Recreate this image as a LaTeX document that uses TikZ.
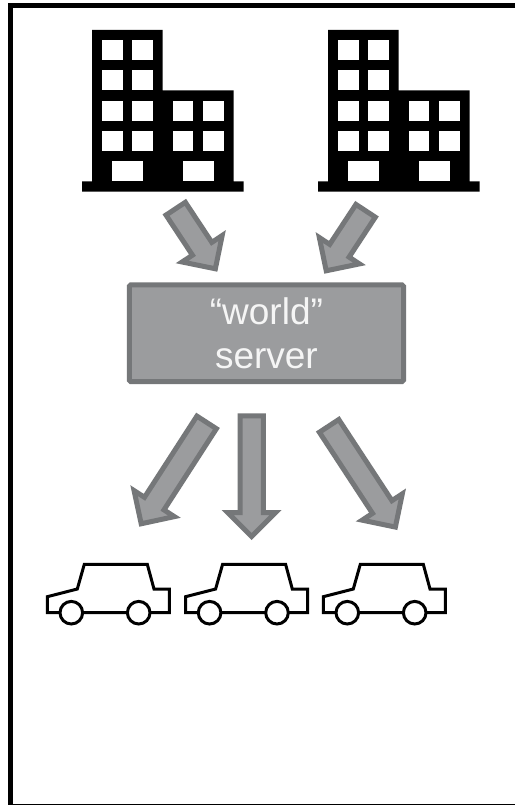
\documentclass[tikz,border=0pt]{standalone}
\usepackage{fontspec}
\setmainfont{Liberation Sans}
\usetikzlibrary{calc}
\definecolor{blockfill}{HTML}{9B9C9E}
\definecolor{blockline}{HTML}{757779}
\tikzset{
  frameline/.style={line width=5pt,black,line join=miter},
  blockshape/.style={draw=blockline,fill=blockfill,line width=5pt,line join=miter,miter limit=10},
  servertext/.style={text=white!96!black,font=\fontsize{37}{44}\selectfont,align=center},
  carline/.style={draw=black,fill=white,line width=3pt,line join=miter},
  building/.pic={
    \fill[black] (92,30) -- (162.7,30) -- (162.7,90.3) -- (233.7,90.3) -- (233.7,181.3)
      -- (243.7,181.3) -- (243.7,191.7) -- (82,191.7) -- (82,181.3) -- (92,181.3) -- cycle;
    \foreach \wy in {40,70,100.7,131}{
      \fill[white] (102.3,\wy) rectangle +(20.4,20.3);
      \fill[white] (132.3,\wy) rectangle +(20.4,20.3);
    }
    \foreach \wy in {100.7,131}{
      \fill[white] (173,\wy) rectangle +(20.4,20.3);
      \fill[white] (203.3,\wy) rectangle +(20.4,20.3);
    }
    \fill[white] (112.3,161.3) rectangle (142.7,181.3);
    \fill[white] (183,161.3) rectangle (213.7,181.3);
  },
  car/.pic={
    \path[carline] (47.3,596.7) -- (77.3,589) -- (84.3,564.3) -- (147.3,564.3) -- (154,589)
      -- (169.3,589) -- (169.3,612.7) -- (47.3,612.7) -- cycle;
    \path[carline] (71.3,612.7) circle[radius=11.3pt];
    \path[carline] (138.7,612.7) circle[radius=11.3pt];
  }
}
% #1 outer tail centre, #2 outer tip
\newcommand{\blockarrow}[2]{%
  \coordinate (ta) at ($#1!2.5pt!#2$);
  \coordinate (tb) at ($#2!3.5pt!#1$);
  \coordinate (tn) at ($(tb)!24pt!(ta)$);
  \path[blockshape]
    ($(ta)!11.6pt!90:(tb)$) -- ($(tn)!11.6pt!90:(tb)$) -- ($(tn)!24pt!90:(tb)$) -- (tb)
    -- ($(tn)!24pt!-90:(tb)$) -- ($(tn)!11.6pt!-90:(tb)$) -- ($(ta)!11.6pt!-90:(tb)$) -- cycle;
}
\begin{document}
\begin{tikzpicture}[x=1pt,y=-1pt]
  \useasboundingbox (0,0) rectangle (515,805);
  \fill[white] (0,0) rectangle (515,805);
  \draw[frameline] (515,5.7) -- (10,5.7) -- (10,806) -- (515,806);
  \pic at (0,0) {building};
  \pic at (236,0) {building};
  \node[blockshape,servertext,rounded corners=1.5pt,minimum width=274.3pt,minimum height=96.7pt,inner sep=0pt] (server) at (266.4,333.2) {“world”\\server};
  \blockarrow{(174.3,206.6)}{(217.3,271.7)}
  \blockarrow{(367,208.7)}{(324.3,273.7)}
  \blockarrow{(208,420.3)}{(139.3,526.7)}
  \blockarrow{(251.7,413.3)}{(251.7,540)}
  \blockarrow{(327.7,423.8)}{(397.3,530)}
  \pic at (0,0) {car};
  \pic at (138.3,0) {car};
  \pic at (276,0) {car};
\end{tikzpicture}
\end{document}
